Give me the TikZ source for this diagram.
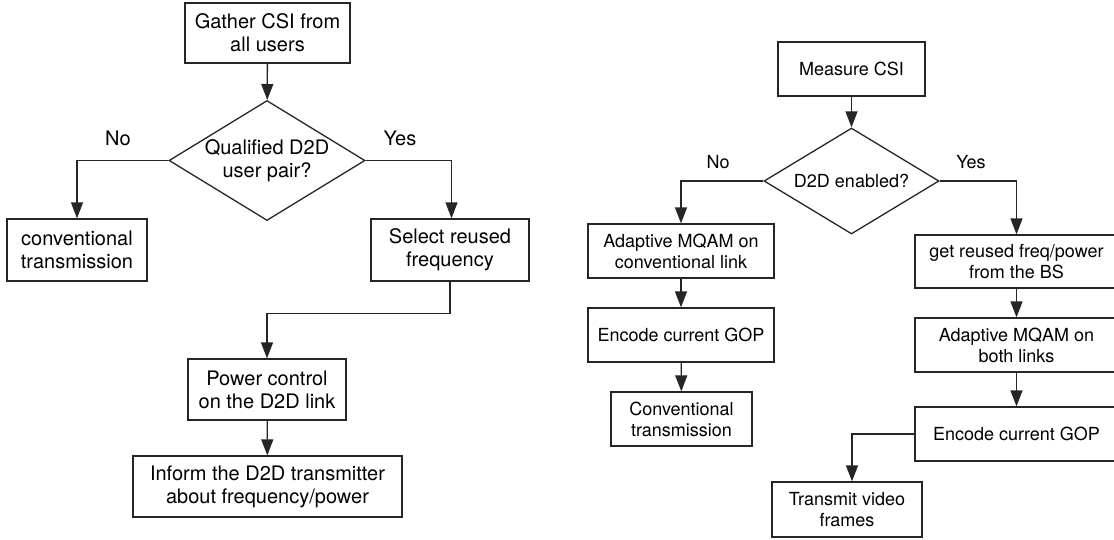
\documentclass[tikz,border=0pt]{standalone}
\usepackage{fontspec}
\setmainfont{TeX Gyre Heros}
\usetikzlibrary{arrows.meta,shapes.geometric}
\tikzset{
  box/.style 2 args={draw=black!85, line width=1.3pt, inner sep=0pt, align=center, minimum width=#1pt, minimum height=#2pt},
  dia/.style 2 args={draw=black!85, line width=1.3pt, diamond, inner sep=0pt, minimum width=#1pt, minimum height=#2pt},
  arr/.style={draw=black!85, line width=1.3pt, -{Triangle[length=16pt,width=12pt]}},
  lab/.style={inner sep=0pt, align=center},
  bigtxt/.style={font=\fontsize{20}{23}\selectfont},
  smalltxt/.style={font=\fontsize{18}{21}\selectfont},
}
\begin{document}
\begin{tikzpicture}[x=1pt,y=-1pt]
\useasboundingbox (0,0) rectangle (1114,539);
\fill[white] (0,0) rectangle (1114,539);
% ---------- left chart ----------
\begin{scope}[bigtxt]
\node[box={165}{60}] (g) at (267.5,33) {Gather CSI from\\all users};
\node[dia={196}{120}] (d1) at (267,160.5) {};
\node[lab] (d1t) at (d1) {Qualified D2D\\user pair?};
\node[box={140}{62}] (conv) at (77,250) {conventional\\transmission};
\node[box={158}{62}] (sel) at (450,250) {Select reused\\frequency};
\node[box={158}{61}] (pow) at (267,389.5) {Power control\\on the D2D link};
\node[box={269}{61}] (inf) at (267.5,486.5) {Inform the D2D transmitter\\about frequency/power};
\node[lab] (no1) at (118,138) {No};
\node[lab] (yes1) at (400,138) {Yes};
\end{scope}
\draw[arr] (g) -- (d1);
\draw[arr] (d1.west) -| (conv.north);
\draw[arr] (d1.east) -| ([xshift=1.5pt]sel.north);
\draw[arr] (sel.south) -- ++(0,32) -| (pow.north);
\draw[arr] (pow) -- (inf);
% ---------- right chart ----------
\begin{scope}[smalltxt]
\node[box={147}{54}] (mc) at (851.5,69) {Measure CSI};
\node[dia={175}{106}] (d2) at (851.5,181) {};
\node[lab] (d2t) at (d2) {D2D enabled?};
\node[box={186}{54}] (adc) at (681,251) {Adaptive MQAM on\\conventional link};
\node[box={186}{54}] (enc1) at (681,335) {Encode current GOP};
\node[box={141}{54}] (ct) at (681.5,419) {Conventional\\transmission};
\node[box={203}{53}] (gr) at (1016.5,261.5) {get reused freq/power\\from the BS};
\node[box={203}{54}] (ab) at (1016.5,345) {Adaptive MQAM on\\both links};
\node[box={203}{54}] (enc2) at (1016.5,434) {Encode current GOP};
\node[box={150}{55}] (tv) at (847,509.5) {Transmit video\\frames};
\node[lab] (no2) at (718,162) {No};
\node[lab] (yes2) at (971,162) {Yes};
\end{scope}
\draw[arr] (mc) -- (d2);
\draw[arr] (d2.west) -| (adc.north);
\draw[arr] (d2.east) -| (gr.north);
\draw[arr] (adc) -- (enc1);
\draw[arr] (enc1) -- (ct);
\draw[arr] (gr) -- (ab);
\draw[arr] (ab) -- (enc2);
\draw[arr] (enc2.west) -| ([xshift=5pt]tv.north);
\end{tikzpicture}
\end{document}
